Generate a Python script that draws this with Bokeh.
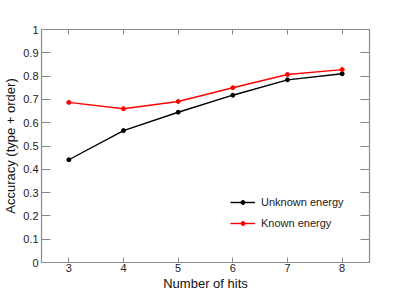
from bokeh.plotting import figure
from bokeh.models import FixedTicker, LinearAxis, Range1d, Legend, LegendItem, CustomJSTickFormatter
from bokeh.embed import file_html
from bokeh.resources import INLINE

hits = [3, 4, 5, 6, 7, 8]
unknown_energy = [0.441, 0.566, 0.645, 0.718, 0.784, 0.810]
known_energy = [0.687, 0.660, 0.691, 0.750, 0.807, 0.828]
x_ticks = [3, 4, 5, 6, 7, 8]
y_ticks = [0, 0.1, 0.2, 0.3, 0.4, 0.5, 0.6, 0.7, 0.8, 0.9, 1]
y_tick_labels = ["0", "0.1", "0.2", "0.3", "0.4", "0.5", "0.6", "0.7", "0.8", "0.9", "1"]

FONT = "Liberation Sans"
GRAY = "#8a8a8a"

p = figure(frame_width=328, frame_height=233, output_backend="svg", toolbar_location=None,
           x_range=Range1d(2.5, 8.5), y_range=Range1d(0, 1),
           min_border_left=33, min_border_right=11, min_border_top=29, min_border_bottom=0,
           x_axis_label="Number of hits", y_axis_label="Accuracy (type + order)")
p.grid.visible = False
p.outline_line_color = GRAY
p.outline_line_width = 1.2
p.background_fill_color = "white"

p.xaxis.ticker = FixedTicker(ticks=x_ticks)
p.yaxis.ticker = FixedTicker(ticks=y_ticks)
p.yaxis.major_label_overrides = {t: l for t, l in zip(y_ticks, y_tick_labels)}

for ax in list(p.xaxis) + list(p.yaxis):
    ax.axis_line_color = GRAY
    ax.major_tick_line_color = GRAY
    ax.major_tick_out = 0
    ax.minor_tick_line_color = None
    ax.major_label_text_font = FONT
    ax.major_label_text_font_size = "11px"
    ax.major_label_text_color = "#222222"
    ax.axis_label_text_font = FONT
    ax.axis_label_text_font_size = "13px"
    ax.axis_label_text_font_style = "normal"
    ax.axis_label_text_color = "#111111"
    ax.major_label_standoff = 3
    ax.axis_label_standoff = 2
p.xaxis.major_tick_in = 5
p.yaxis.major_tick_in = 9
p.xaxis.major_label_standoff = 1
p.xaxis.axis_label_standoff = 1

empty = CustomJSTickFormatter(code="return ''")
top = LinearAxis(ticker=FixedTicker(ticks=x_ticks), formatter=empty,
                 axis_line_color=None, major_tick_line_color=GRAY,
                 major_tick_in=5, major_tick_out=0, minor_tick_line_color=None,
                 major_label_standoff=0, major_label_text_font_size="1px")
right = LinearAxis(ticker=FixedTicker(ticks=y_ticks), formatter=empty,
                   axis_line_color=None, major_tick_line_color=GRAY,
                   major_tick_in=9, major_tick_out=0, minor_tick_line_color=None,
                   major_label_standoff=0, major_label_text_font_size="1px")
p.add_layout(top, "above")
p.add_layout(right, "right")

l1 = p.line(hits, unknown_energy, line_color="black", line_width=1.4)
c1 = p.scatter(hits, unknown_energy, size=4, fill_color="black", line_color="black")
l2 = p.line(hits, known_energy, line_color="red", line_width=1.4)
c2 = p.scatter(hits, known_energy, size=4, fill_color="red", line_color="red")

legend = Legend(items=[LegendItem(label="Unknown energy", renderers=[l1, c1]),
                       LegendItem(label="Known energy", renderers=[l2, c2])],
                location=(189, 29), padding=0, margin=0, spacing=1,
                border_line_color=None, background_fill_alpha=0,
                glyph_width=25, glyph_height=10, label_height=20, label_standoff=6,
                label_text_font=FONT, label_text_font_size="11px", label_text_color="#222222")
p.add_layout(legend, "center")

open("out.html", "w").write(file_html(p, INLINE))
